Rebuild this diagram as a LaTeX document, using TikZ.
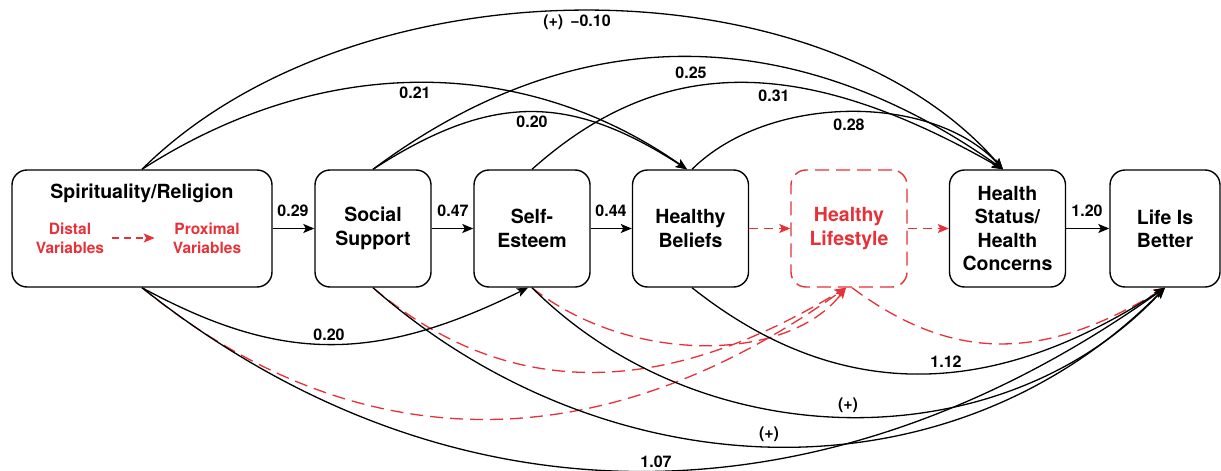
\documentclass[tikz,border=0pt]{standalone}
\usepackage{fontspec}
\setmainfont{TeX Gyre Heros}
\usetikzlibrary{arrows.meta}
\definecolor{accent}{RGB}{232,48,56}
\newcommand\bxfont{\fontsize{19.5}{23.3}\selectfont\bfseries}
\newcommand\lbfont{\fontsize{16}{18}\selectfont\bfseries}
\newcommand\lgfont{\fontsize{15.5}{19.5}\selectfont\bfseries}
\begin{document}
\begin{tikzpicture}[x=1pt,y=-1pt,
  box/.style={draw, line width=1.4pt, rounded corners=15pt, minimum width=116pt,
    minimum height=117pt, align=center, font=\bxfont, inner sep=0pt},
  redbox/.style={box, draw=accent, text=accent, dash pattern=on 14pt off 7pt},
  lbl/.style={font=\lbfont, inner sep=0pt},
  leg/.style={font=\lgfont, text=accent, align=center, inner sep=0pt},
  tip/.style={-{Stealth[length=11pt,width=9pt,inset=2.5pt]}},
  conn/.style={tip, line width=1.3pt},
  rconn/.style={tip, line width=1.3pt, color=accent, dash pattern=on 13pt off 7pt},
  rshort/.style={rconn, dash pattern=on 9pt off 6pt}]
\useasboundingbox (0,0) rectangle (1221,471);

% boxes
\node[box, minimum width=260pt] (SR) at (142,228.5) {};
\node[font=\bxfont, inner sep=0pt] (SRt) at (142,193) {Spirituality/Religion};
\node[leg] (dist) at (70,238.5) {Distal\\Variables};
\node[leg] (prox) at (207,238.5) {Proximal\\Variables};
\node[box] (SS) at (373,228.5) {Social\\Support};
\node[box] (SE) at (532,228.5) {Self-\\Esteem};
\node[box] (HB) at (690.5,228.5) {Healthy\\Beliefs};
\node[redbox] (HL) at (849,228.5) {Healthy\\Lifestyle};
\node[box] (HS) at (1007.5,228.5) {Health\\Status/\\Health\\Concerns};
\node[box, minimum width=110pt] (LB) at (1165,228.5) {Life Is\\Better};

% legend arrow
\draw[rshort, dash pattern=on 7pt off 5pt] ([xshift=8pt,yshift=0.5pt]dist.east) -- ([xshift=-18pt,yshift=0.5pt]prox.west);

% straight arrows
\draw[conn] (SR.east) -- (SS.west);
\draw[conn] (SS.east) -- (SE.west);
\draw[conn] (SE.east) -- (HB.west);
\draw[rshort] (HB.east) -- (HL.west);
\draw[rshort] (HL.east) -- (HS.west);
\draw[conn] (HS.east) -- (LB.west);

\node[lbl] (l29) at (293,211) {0.29};
\node[lbl] (l47) at (453,211) {0.47};
\node[lbl] (l44) at (611,211) {0.44};
\node[lbl] (l120) at (1087,211) {1.20};

% top curves
\coordinate (HBin) at ([xshift=-3.5pt]HB.north);
\coordinate (HSin) at ([xshift=-4.5pt]HS.north);
\draw[conn] (SR.north) .. controls (355,-42) and (820,-42) .. (HSin);
\draw[conn] (SR.north) .. controls (321,54) and (522,54) .. (HBin);
\draw[conn] (SS.north) .. controls (600,0) and (820,40) .. (HSin);
\draw[conn] (SS.north) .. controls (491,93) and (569,93) .. (HBin);
\draw[conn] (SE.north) .. controls (661,54) and (801,54) .. (HSin);
\draw[conn] ([xshift=1.5pt]HB.north) .. controls (769,93) and (933,93) .. (HSin);

\node[lbl] (l010) at (577,22) {(+)\hspace{7pt}−0.10};
\node[lbl] (l21) at (415,93) {0.21};
\node[lbl] (l20t) at (532,122) {0.20};
\node[lbl] (l25) at (691,73) {0.25};
\node[lbl] (l31) at (774,96) {0.31};
\node[lbl] (l28) at (849,125) {0.28};

% bottom curves
\coordinate (SEin) at ([xshift=-4pt]SE.south);
\coordinate (HLin) at ([xshift=-3pt]HL.south);
\draw[rconn] (SR.south) .. controls (347,455) and (590,470) .. (HLin);
\draw[rconn] (SS.south) .. controls (506,400) and (661,400) .. (HLin);
\draw[rconn] (SE.south) .. controls (628,364) and (787,364) .. (HLin);
\draw[rconn] ([xshift=3pt]HL.south) .. controls (952,362) and (1042,362) .. (LB.south);
\draw[conn] (SR.south) .. controls (281,363) and (375,363) .. (SEin);
\draw[conn] (SR.south) .. controls (449,532) and (822,532) .. (LB.south);
\draw[conn] (SS.south) .. controls (608,494) and (950,505) .. (LB.south);
\draw[conn] (SE.south) .. controls (705,460) and (1004,460) .. (LB.south);
\draw[conn] ([xshift=1.5pt]HB.south) .. controls (860,421) and (1020,382) .. (LB.south);

\node[lbl] (l20b) at (329,335) {0.20};
\node[lbl] (l107) at (656,462) {1.07};
\node[lbl] (lpl) at (769,434) {(+)};
\node[lbl] (lpu) at (848,405) {(+)};
\node[lbl] (l112) at (946,362) {1.12};
\end{tikzpicture}
\end{document}
